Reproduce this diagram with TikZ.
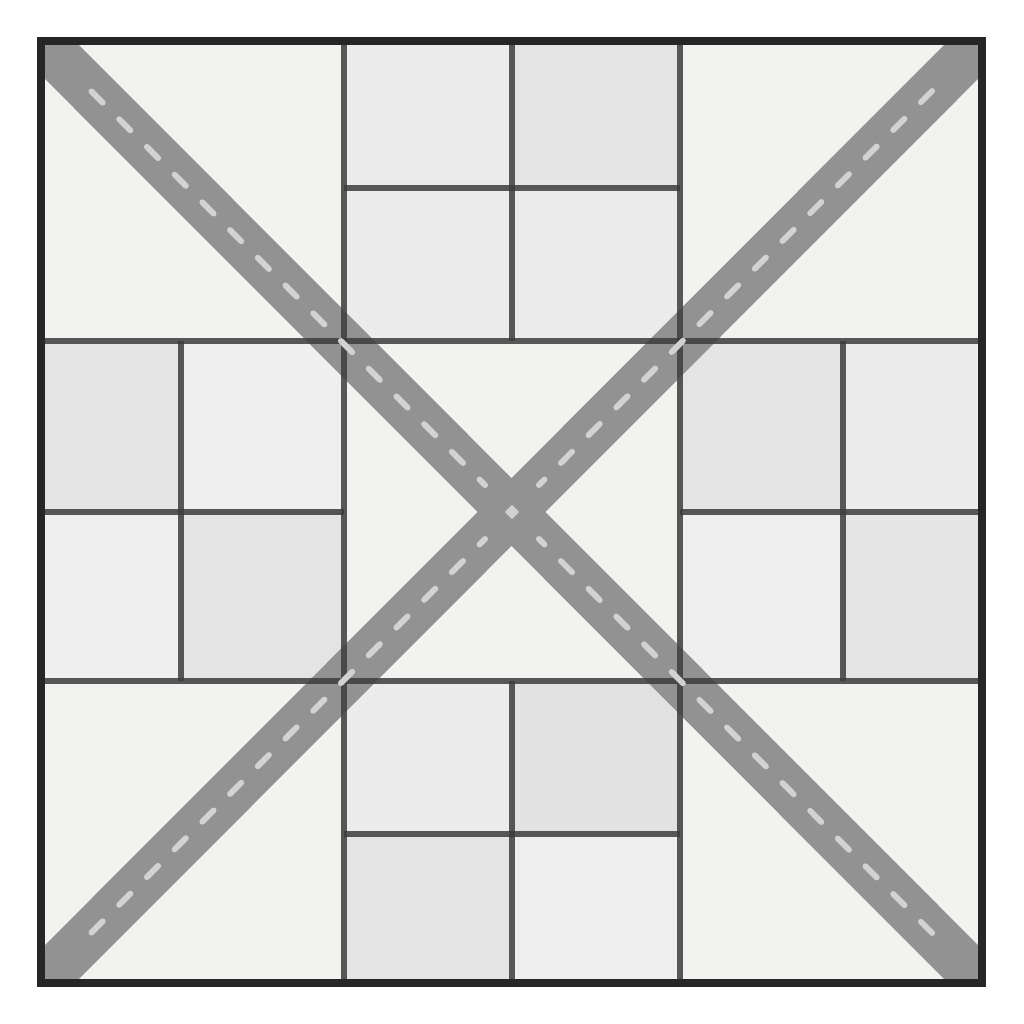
\documentclass[tikz,border=0pt]{standalone}
\usetikzlibrary{calc}
\begin{document}
\begin{tikzpicture}[x=0.5pt,y=-0.5pt,
  gridline/.style={draw=black!76,line width=2.6pt},
  roadband/.style={draw=road,line width=24pt,line cap=butt},
  roaddash/.style={draw=dashc,line width=2.9pt,line cap=round,dash pattern=on 8pt off 11.6pt,dash phase=4pt}]
\definecolor{road}{HTML}{929292}
\definecolor{dashc}{HTML}{D2D2D2}
\definecolor{ca}{HTML}{F2F2F0}
\definecolor{cb}{HTML}{ECECEC}
\definecolor{cc}{HTML}{E4E4E4}
\definecolor{cd}{HTML}{EFEFEF}
\useasboundingbox (0,0) rectangle (1024,1024);
\fill[white] (0,0) rectangle (1024,1024);
% corner cells and center
\fill[ca] (41,41) rectangle (982,983);
\fill[ca] (344,341) rectangle (680,681);
% top block
\fill[cb] (344,41) rectangle (512,188);
\fill[cc] (512,41) rectangle (680,188);
\fill[cb] (344,188) rectangle (512,341);
\fill[cb] (512,188) rectangle (680,341);
% left block
\fill[cc] (41,341) rectangle (181,512);
\fill[cd] (181,341) rectangle (344,512);
\fill[cd] (41,512) rectangle (181,681);
\fill[cc] (181,512) rectangle (344,681);
% right block
\fill[cc] (680,341) rectangle (843,512);
\fill[cb] (843,341) rectangle (982,512);
\fill[cd] (680,512) rectangle (843,681);
\fill[cc] (843,512) rectangle (982,681);
% bottom block
\fill[cb] (344,681) rectangle (512,834);
\fill[cb!96!black] (512,681) rectangle (680,834);
\fill[cc] (344,834) rectangle (512,983);
\fill[cd] (512,834) rectangle (680,983);
% roads
\coordinate (c) at (512,512);
\coordinate (tl) at (41,41);
\coordinate (br) at (982,983);
\coordinate (tr) at (982,41);
\coordinate (bl) at (41,983);
\begin{scope}
\clip (41,41) rectangle (982,983);
\draw[roadband] ($(tl)!-0.05!(br)$) -- ($(tl)!1.05!(br)$);
\draw[roadband] ($(tr)!-0.05!(bl)$) -- ($(tr)!1.05!(bl)$);
\end{scope}
% grid lines
\begin{scope}[opacity=0.85]
\draw[gridline] (344,41) -- (344,983);
\draw[gridline] (680,41) -- (680,983);
\draw[gridline] (41,341) -- (982,341);
\draw[gridline] (41,681) -- (982,681);
\draw[gridline] (512,41) -- (512,341);
\draw[gridline] (344,188) -- (680,188);
\draw[gridline] (181,341) -- (181,681);
\draw[gridline] (41,512) -- (344,512);
\draw[gridline] (843,341) -- (843,681);
\draw[gridline] (680,512) -- (982,512);
\draw[gridline] (512,681) -- (512,983);
\draw[gridline] (344,834) -- (680,834);
\end{scope}
% dashes
\begin{scope}
\clip (88,88) rectangle (936,936);
\draw[roaddash] ($(c)!19pt!(tl)$) -- (tl);
\draw[roaddash] ($(c)!19pt!(br)$) -- (br);
\draw[roaddash] ($(c)!19pt!(tr)$) -- (tr);
\draw[roaddash] ($(c)!19pt!(bl)$) -- (bl);
\end{scope}
\fill[dashc,rotate around={45:(c)}] ($(c)+(-5,-5)$) rectangle ($(c)+(5,5)$);
% outer border
\draw[draw=black!85,line width=4pt] (41,41) rectangle (982,983);
\end{tikzpicture}
\end{document}
